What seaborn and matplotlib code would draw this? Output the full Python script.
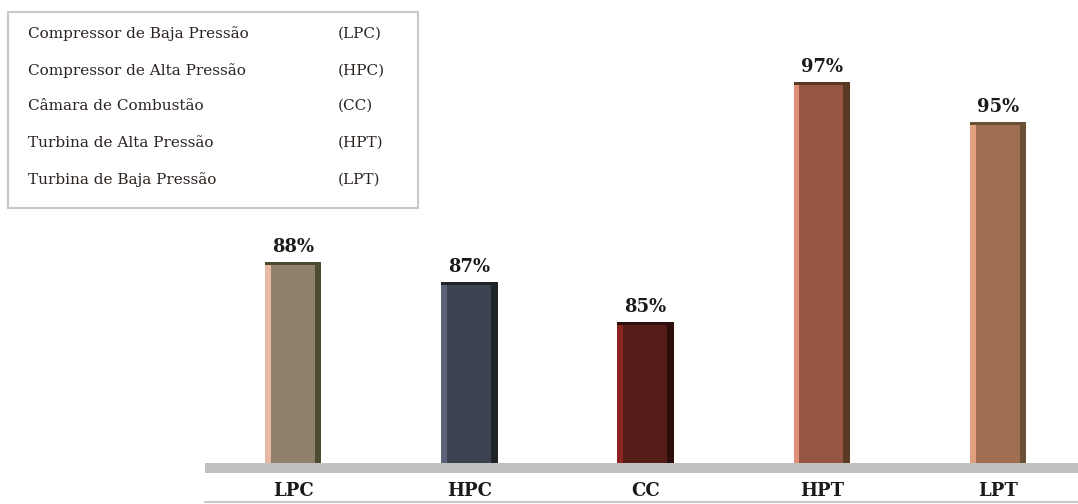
import matplotlib
matplotlib.use("Agg")
import matplotlib.pyplot as plt
from matplotlib.patches import Rectangle
from matplotlib.lines import Line2D
import seaborn as sns

# data
categories = ["LPC", "HPC", "CC", "HPT", "LPT"]
values = [88, 87, 85, 97, 95]
bar_colors = ["#8f806b", "#3b4350", "#561c18", "#955643", "#a06e52"]
light_edge = ["#e8b8a0", "#5c6278", "#8c2420", "#e0907a", "#e0a080"]
dark_edge = ["#4c4a30", "#1e2428", "#2e0e0c", "#5a3a22", "#6a5034"]

legend_names = ["Compressor de Baja Pressão", "Compressor de Alta Pressão",
                "Câmara de Combustão", "Turbina de Alta Pressão",
                "Turbina de Baja Pressão"]
legend_abbr = ["(LPC)", "(HPC)", "(CC)", "(HPT)", "(LPT)"]

sns.set_style("white")
plt.rcParams["font.family"] = ["DejaVu Serif"]

W, H = 1078, 504
fig = plt.figure(figsize=(W / 100, H / 100), dpi=100)
ax = fig.add_axes([205 / W, 1 - 463 / H, (W - 205) / W, 463 / H])

sns.barplot(x=categories, y=values, hue=categories, palette=bar_colors,
            width=0.32, legend=False, saturation=1, ax=ax)

y0, y1 = 77.95, 101.08
ax.set_ylim(y0, y1)
ax.set_xlim(-0.5, 4.453)

for c in ax.containers:
    ax.bar_label(c, fmt="{:.0f}%", padding=4, fontsize=13, fontweight="bold",
                 color="#1a1a1a")

# fake 3D look: light left strip, dark right strip, dark top edge
for i, p in enumerate(list(ax.patches)):
    x0, w, h = p.get_x(), p.get_width(), p.get_height()
    ax.add_patch(Rectangle((x0, y0), w * 0.1, h - y0, color=light_edge[i], lw=0))
    ax.add_patch(Rectangle((x0 + w * 0.88, y0), w * 0.12, h - y0, color=dark_edge[i], lw=0))
    ax.add_patch(Rectangle((x0, h - 0.15), w, 0.15, color=dark_edge[i], lw=0))

for s in ax.spines.values():
    s.set_visible(False)
ax.set_yticks([])
ax.tick_params(axis="x", length=0, pad=14)
for t in ax.get_xticklabels():
    t.set_fontsize(13)
    t.set_fontweight("bold")
    t.set_color("#1a1a1a")

# gray floor band and thin bottom rule
fig.add_artist(Rectangle((205 / W, 1 - 473 / H), (W - 205) / W, 10 / H,
                         transform=fig.transFigure, color="#c0c0c0", lw=0))
fig.add_artist(Line2D([205 / W, 1], [1 - 502 / H, 1 - 502 / H],
                      transform=fig.transFigure, color="#c8c8c8", lw=1.5))

# legend box with names
fig.add_artist(Rectangle((8 / W, 1 - 208 / H), 410 / W, 196 / H,
                         transform=fig.transFigure, fill=False,
                         edgecolor="#c8c8c8", lw=1.5))
rows_y = [34, 71, 106, 143, 180]
for name, abbr, ry in zip(legend_names, legend_abbr, rows_y):
    fig.text(28 / W, 1 - ry / H, name, fontsize=11, color="#2b2320", va="center")
    fig.text(338 / W, 1 - ry / H, abbr, fontsize=11, color="#2b2320", va="center")

fig.savefig("out.png", dpi=100)
